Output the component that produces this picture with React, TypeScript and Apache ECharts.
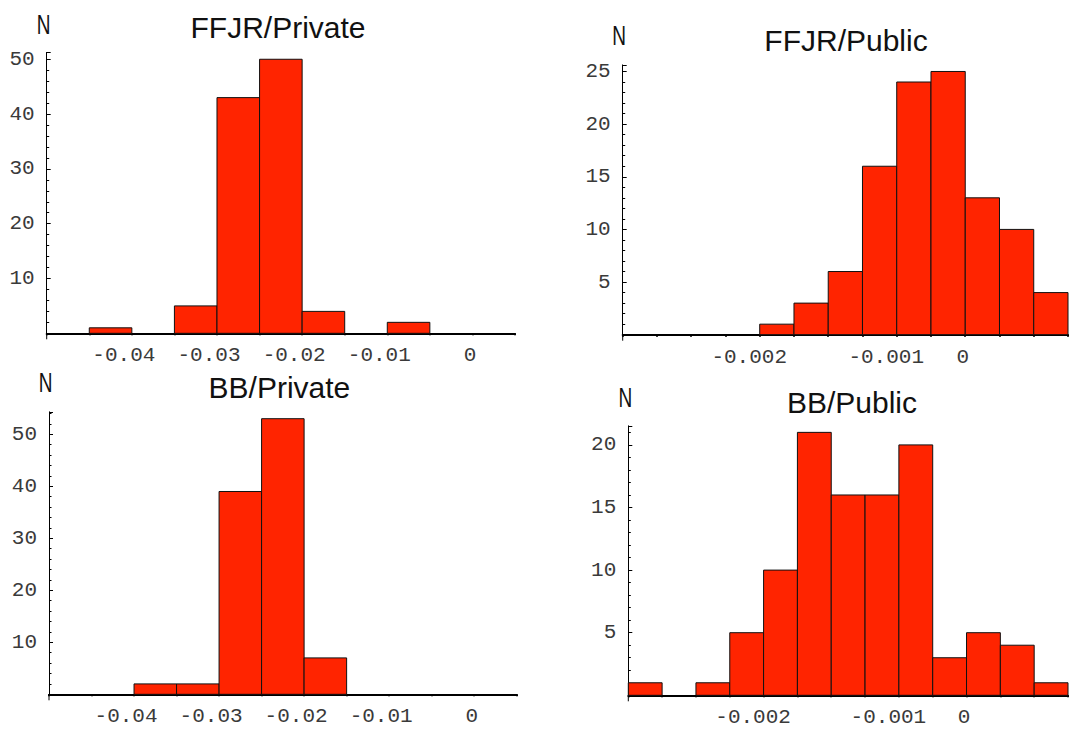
import React, { useEffect, useRef } from "react";
import * as echarts from "echarts";

// ---- data (counts per histogram bin, left to right) ----
const ffjrPrivateCounts = [0, 1, 0, 5, 43, 50, 4, 0, 2, 0, 0];
const ffjrPublicCounts = [0, 0, 0, 0, 1, 3, 6, 16, 24, 25, 13, 10, 4];
const bbPrivateCounts = [0, 0, 2, 2, 39, 53, 7, 0, 0, 0, 0];
const bbPublicCounts = [1, 0, 1, 5, 10, 21, 16, 16, 20, 3, 5, 4, 1];

// x tick labels and the bin edges they sit on
const privateTickLabels = ["-0.04", "-0.03", "-0.02", "-0.01", "0"];
const privateTickEdges = [2, 4, 6, 8, 10];
const publicTickLabels = ["-0.002", "-0.001", "0"];
const publicTickEdges = [4, 8, 10];

// y tick values
const privateYTicks = [10, 20, 30, 40, 50];
const ffjrPublicYTicks = [5, 10, 15, 20, 25];
const bbPublicYTicks = [5, 10, 15, 20];

const panels = [
  {
    title: "FFJR/Private",
    counts: ffjrPrivateCounts,
    tickLabels: privateTickLabels,
    tickEdges: privateTickEdges,
    yTicks: privateYTicks,
    yInterval: 10,
    grid: { left: 46.7, top: 52.4, width: 468.3, height: 280.9 },
    titlePos: [278, 27.5],
    nPos: [43.6, 23.6],
  },
  {
    title: "FFJR/Public",
    counts: ffjrPublicCounts,
    tickLabels: publicTickLabels,
    tickEdges: publicTickEdges,
    yTicks: ffjrPublicYTicks,
    yInterval: 5,
    grid: { left: 622.7, top: 64.9, width: 450.7, height: 269.8 },
    titlePos: [846, 40.5],
    nPos: [619, 35.5],
  },
  {
    title: "BB/Private",
    counts: bbPrivateCounts,
    tickLabels: privateTickLabels,
    tickEdges: privateTickEdges,
    yTicks: privateYTicks,
    yInterval: 10,
    grid: { left: 49, top: 411.8, width: 467.7, height: 282.5 },
    titlePos: [279.4, 387.5],
    nPos: [45.6, 382],
  },
  {
    title: "BB/Public",
    counts: bbPublicCounts,
    tickLabels: publicTickLabels,
    tickEdges: publicTickEdges,
    yTicks: bbPublicYTicks,
    yInterval: 5,
    grid: { left: 628.3, top: 425.8, width: 450.5, height: 269.5 },
    titlePos: [852, 402.5],
    nPos: [625.3, 397],
  },
];

const MONO = "'Liberation Mono', 'Courier New', monospace";
const SANS = "'Liberation Sans', Arial, sans-serif";
const LABEL_COLOR = "#3a3a3a";
const BAR_COLOR = "#ff2400";

function buildOption() {
  const grids: any[] = [];
  const xAxes: any[] = [];
  const yAxes: any[] = [];
  const series: any[] = [];
  const graphics: any[] = [];

  const richBase = { fontFamily: MONO, fontSize: 21, color: LABEL_COLOR };

  panels.forEach((p, i) => {
    grids.push({ ...p.grid, containLabel: false });
    const nBins = p.counts.length;
    xAxes.push({
      type: "value",
      gridIndex: i,
      min: 0,
      max: nBins,
      interval: 1,
      splitLine: { show: false },
      axisLine: { show: true, onZero: true, lineStyle: { color: "#000", width: 2 } },
      axisTick: { show: true, inside: false, length: 2, lineStyle: { color: "#000", width: 2 } },
      axisLabel: {
        show: true,
        margin: 12,
        fontFamily: MONO,
        fontSize: 21,
        color: LABEL_COLOR,
        formatter: (v: number) => {
          const r = Math.round(v);
          if (Math.abs(v - r) > 1e-6) return "";
          const k = p.tickEdges.indexOf(r);
          if (k < 0) return "";
          const lab = p.tickLabels[k];
          const style = lab === "0" ? "z" : lab.length > 5 ? "n6" : "n5";
          return "{" + style + "|" + lab + "}";
        },
        rich: {
          n5: { ...richBase, padding: [0, 16, 0, 0] },
          n6: { ...richBase, padding: [0, 21, 0, 0] },
          z: { ...richBase, padding: [0, 5, 0, 0] },
        },
      },
    });
    const yMax = Math.max(...p.counts) * 1.025;
    yAxes.push({
      type: "value",
      gridIndex: i,
      min: 0,
      max: yMax,
      interval: p.yInterval,
      splitLine: { show: false },
      axisLine: { show: true, lineStyle: { color: "#000", width: 1 } },
      axisTick: {
        show: true,
        inside: true,
        length: 4,
        lineStyle: { color: "#000", width: 1 },
      },
      minorTick: { show: true, splitNumber: 5, length: 2.5, lineStyle: { color: "#000", width: 1 } },
      axisLabel: {
        show: true,
        margin: 12,
        fontFamily: MONO,
        fontSize: 21,
        color: LABEL_COLOR,
        showMinLabel: true,
        showMaxLabel: true,
        formatter: (v: number) => (p.yTicks.indexOf(v) >= 0 ? String(v) : ""),
      },
    });
    series.push({
      type: "custom",
      xAxisIndex: i,
      yAxisIndex: i,
      clip: false,
      encode: { x: [0, 1], y: 2 },
      data: p.counts.map((c, b) => [b, b + 1, c]),
      renderItem: (params: any, api: any) => {
        const x0 = api.value(0);
        const x1 = api.value(1);
        const v = api.value(2);
        if (!v) return { type: "group", children: [] };
        const a = api.coord([x0, v]);
        const b = api.coord([x1, 0]);
        return {
          type: "rect",
          shape: { x: a[0], y: a[1], width: b[0] - a[0], height: b[1] - a[1] },
          style: { fill: BAR_COLOR, stroke: "#111", lineWidth: 1 },
        };
      },
    });
    // title
    graphics.push({
      type: "text",
      x: p.titlePos[0],
      y: p.titlePos[1],
      style: {
        text: p.title,
        fontFamily: SANS,
        fontSize: 30,
        fill: "#111",
        textAlign: "center",
        align: "center",
        textVerticalAlign: "middle",
        verticalAlign: "middle",
      },
    });
    // N label
    graphics.push({
      type: "text",
      x: p.nPos[0],
      y: p.nPos[1],
      scaleX: 0.68,
      style: {
        text: "N",
        fontFamily: SANS,
        fontSize: 28,
        fill: "#111",
        textAlign: "center",
        align: "center",
        textVerticalAlign: "middle",
        verticalAlign: "middle",
      },
    });
    // y axis stub below the x axis
    const axisY = p.grid.top + p.grid.height;
    graphics.push({
      type: "line",
      shape: { x1: p.grid.left, y1: axisY, x2: p.grid.left, y2: axisY + 6 },
      style: { stroke: "#000", lineWidth: 1 },
    });
  });

  return {
    animation: false,
    backgroundColor: "#fff",
    grid: grids,
    xAxis: xAxes,
    yAxis: yAxes,
    series,
    graphic: graphics,
  };
}

export default function App() {
  const ref = useRef<HTMLDivElement>(null);
  useEffect(() => {
    if (!ref.current) return;
    const chart = echarts.init(ref.current, undefined, { renderer: "svg" });
    chart.setOption(buildOption() as any);
    return () => chart.dispose();
  }, []);
  return (
    <div
      ref={ref}
      style={{ position: "fixed", left: 0, top: 0, width: 1071, height: 730, background: "#fff" }}
    />
  );
}
